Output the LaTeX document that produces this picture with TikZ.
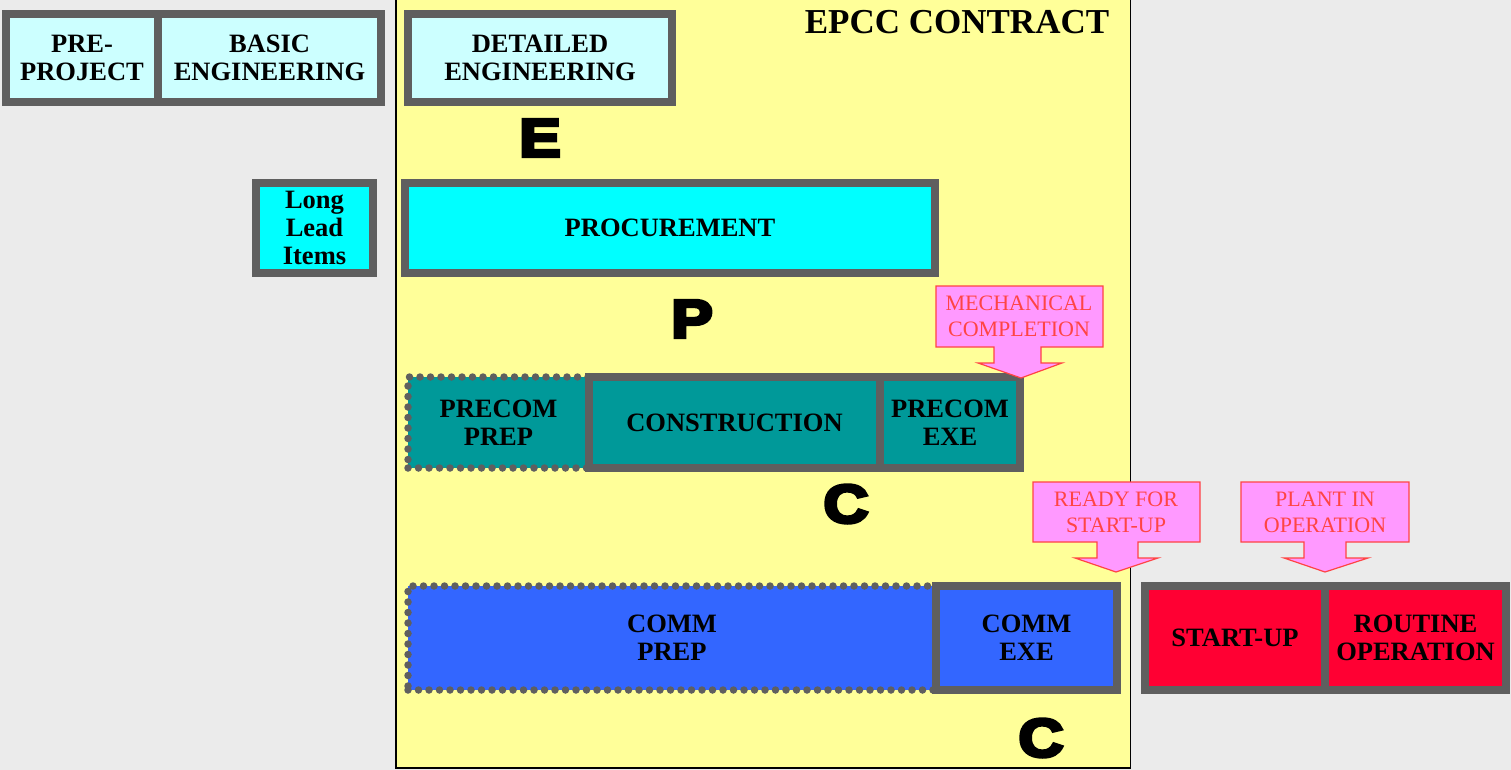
\documentclass[tikz,border=0pt]{standalone}
\usepackage{fontspec}
\setmainfont{Liberation Serif}
\newfontfamily\blk[BoldFeatures={FakeBold=6}]{Liberation Sans}
\definecolor{bgc}{HTML}{EBEBEB}
\definecolor{ylw}{HTML}{FFFF99}
\definecolor{lcyan}{HTML}{CCFFFF}
\definecolor{cyn}{HTML}{00FFFF}
\definecolor{teal2}{HTML}{009999}
\definecolor{blu}{HTML}{3366FF}
\definecolor{rd}{HTML}{FF0033}
\definecolor{bord}{HTML}{5F5F5F}
\definecolor{pnk}{HTML}{FF99FF}
\definecolor{pnkline}{HTML}{FF4444}
\begin{document}
\begin{tikzpicture}[x=1pt,y=-1pt,
  box/.style={draw=bord, line width=8pt, inner sep=0pt, outer sep=0pt, align=center,
    font=\fontsize{26.5}{28}\selectfont\bfseries},
  dotbox/.style={box, line width=7.5pt, dash pattern=on 0pt off 10.5pt, line cap=round},
  callout/.style={fill=pnk, draw=pnkline, line width=1.2pt, line join=miter},
  ctext/.style={inner sep=0pt, align=center, text=pnkline, font=\fontsize{22}{26}\selectfont},
  bigletter/.style={inner sep=0pt, font=\blk\bfseries\fontsize{54}{54}\selectfont, xscale=1.15}]
\useasboundingbox (0,0) rectangle (1511,770);
\fill[bgc] (0,0) rectangle (1511,770);
\draw[fill=ylw, line width=1.5pt] (396,-2) rectangle (1130.5,768);

% dotted prep boxes
\node[dotbox, fill=teal2, minimum width=181pt, minimum height=91pt] (precomprep) at (498.5,422.5) {PRECOM\\PREP};
\node[dotbox, fill=blu, minimum width=528pt, minimum height=104pt] (commprep) at (672,638) {COMM\\PREP};

% solid boxes
\node[box, fill=lcyan, minimum width=152pt, minimum height=88pt] (preproj) at (82,58) {PRE-\\PROJECT};
\node[box, fill=lcyan, minimum width=223pt, minimum height=88pt] (basic) at (269.5,58) {BASIC\\ENGINEERING};
\node[box, fill=lcyan, minimum width=264pt, minimum height=88pt] (detailed) at (540,58) {DETAILED\\ENGINEERING};
\node[box, fill=cyn, minimum width=117pt, minimum height=90pt] (longlead) at (314.5,228) {Long\\Lead\\Items};
\node[box, fill=cyn, minimum width=530pt, minimum height=90pt] (procurement) at (670,228) {PROCUREMENT};
\node[box, fill=teal2, minimum width=291pt, minimum height=91pt] (construction) at (734.5,422.5) {CONSTRUCTION};
\node[box, fill=teal2, minimum width=140pt, minimum height=91pt] (precomexe) at (950,422.5) {PRECOM\\EXE};
\node[box, fill=blu, minimum width=181pt, minimum height=104pt] (commexe) at (1026.5,638) {COMM\\EXE};
\node[box, fill=rd, minimum width=180pt, minimum height=104pt] (startup) at (1235,638) {START-UP};
\node[box, fill=rd, minimum width=181pt, minimum height=104pt] (routine) at (1415.5,638) {ROUTINE\\OPERATION};

% callouts
\draw[callout] (936,286) -- (1103,286) -- (1103,347) -- (1041,347) -- (1041,363) -- (1062,363)
  -- (1021,378) -- (978,363) -- (994,363) -- (994,347) -- (936,347) -- cycle;
\node[ctext] (mech) at (1019,316) {MECHANICAL\\COMPLETION};
\draw[callout] (1033,482) -- (1200,482) -- (1200,542) -- (1138,542) -- (1138,558) -- (1158,558)
  -- (1116,572) -- (1075,558) -- (1097,558) -- (1097,542) -- (1033,542) -- cycle;
\node[ctext] (ready) at (1116,512) {READY FOR\\START-UP};
\draw[callout] (1241,482) -- (1409,482) -- (1409,542) -- (1346,542) -- (1346,558) -- (1368,558)
  -- (1325,572) -- (1284,558) -- (1304,558) -- (1304,542) -- (1241,542) -- cycle;
\node[ctext] (plant) at (1325,512) {PLANT IN\\OPERATION};

% big letters
\node[bigletter] (lE) at (540,138) {E};
\node[bigletter] (lP) at (692,319) {P};
\node[bigletter] (lC1) at (846,504) {C};
\node[bigletter] (lC2) at (1041,738) {C};

% title
\node[inner sep=0pt, font=\fontsize{35}{35}\selectfont\bfseries] (title) at (957,22) {EPCC CONTRACT};
\end{tikzpicture}
\end{document}
